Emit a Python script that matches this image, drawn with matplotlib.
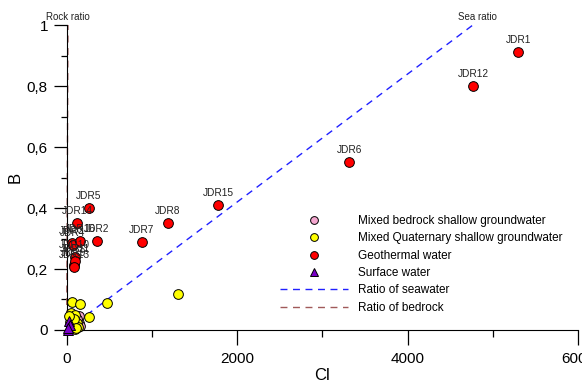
import matplotlib.pyplot as plt
from matplotlib.ticker import FuncFormatter, MultipleLocator

plt.rcParams['font.family'] = ['Liberation Sans', 'DejaVu Sans']

# Mixed bedrock shallow groundwater
cl_bed = [145, 145, 117, 160, 90]
b_bed = [0.046, 0.022, 0.035, 0.012, 0.03]

# Mixed Quaternary shallow groundwater
cl_quat = [1310, 470, 262, 59, 156, 50, 98, 39, 117, 98, 59, 137, 80, 30, 110]
b_quat = [0.118, 0.090, 0.042, 0.093, 0.085, 0.055, 0.050, 0.027, 0.022, 0.002, 0.010, 0.011, 0.035, 0.045, 0.005]

# Geothermal water
geo_names = ['JDR1', 'JDR2', 'JDR3', 'JDR4', 'JDR5', 'JDR6', 'JDR7', 'JDR8',
             'JDR9', 'JDR10', 'JDR11', 'JDR12', 'JDR13', 'JDR14', 'JDR15', 'JDR16']
cl_geo = [5298, 352, 62, 72, 258, 3318, 878, 1184,
          86, 94, 102, 4768, 90, 125, 1776, 156]
b_geo = [0.911, 0.291, 0.284, 0.280, 0.401, 0.551, 0.290, 0.350,
         0.212, 0.239, 0.226, 0.801, 0.208, 0.351, 0.410, 0.291]

# Surface water
cl_surf = [27, 12, 39, 20]
b_surf = [0.030, 0.0, 0.015, 0.005]

# reference ratio lines
sea_x = [0, 4766]
sea_y = [0, 1]
rock_x = [0, 15]
rock_y = [0, 1]

fig = plt.figure(figsize=(5.82, 3.87), dpi=100)
ax = fig.add_axes([0.1146, 0.1473, 0.8786, 0.788])

ax.plot(cl_bed, b_bed, linestyle='none', marker='o', markersize=7,
        markerfacecolor='#f4a6cf', markeredgecolor='black', markeredgewidth=0.7,
        clip_on=False, zorder=3, label='Mixed bedrock shallow groundwater')
ax.plot(cl_quat, b_quat, linestyle='none', marker='o', markersize=7,
        markerfacecolor='#ffff00', markeredgecolor='black', markeredgewidth=0.7,
        clip_on=False, zorder=3, label='Mixed Quaternary shallow groundwater')
ax.plot(cl_geo, b_geo, linestyle='none', marker='o', markersize=7,
        markerfacecolor='#ff0000', markeredgecolor='black', markeredgewidth=0.7,
        clip_on=False, zorder=4, label='Geothermal water')
ax.plot(cl_surf, b_surf, linestyle='none', marker='^', markersize=7,
        markerfacecolor='#7a00c8', markeredgecolor='black', markeredgewidth=0.7,
        clip_on=False, zorder=5, label='Surface water')

ax.plot(sea_x, sea_y, color='#2020ff', linewidth=1, dashes=(5, 4),
        clip_on=False, zorder=2, label='Ratio of seawater')
ax.plot(rock_x, rock_y, color='#a05a5a', linewidth=1, dashes=(5, 4),
        clip_on=False, zorder=2, label='Ratio of bedrock')

for name, x, y in zip(geo_names, cl_geo, b_geo):
    ax.annotate(name, (x, y), xytext=(0, 5), textcoords='offset points',
                ha='center', va='bottom', fontsize=7.3, color='#222222', zorder=6)

ax.annotate('Sea ratio', (sea_x[1], sea_y[1]), xytext=(3, 2), textcoords='offset points',
            ha='center', va='bottom', fontsize=7, color='#222222')
ax.annotate('Rock ratio', (rock_x[1], rock_y[1]), xytext=(0, 2), textcoords='offset points',
            ha='center', va='bottom', fontsize=7, color='#222222')

ax.set_xlim(0, 6000)
ax.set_ylim(0, 1)
ax.spines['top'].set_visible(False)
ax.spines['right'].set_visible(False)

ax.xaxis.set_major_locator(MultipleLocator(2000))
ax.xaxis.set_minor_locator(MultipleLocator(1000))
ax.yaxis.set_major_locator(MultipleLocator(0.2))
ax.yaxis.set_minor_locator(MultipleLocator(0.1))
ax.yaxis.set_major_formatter(FuncFormatter(lambda v, _: f'{v:g}'.replace('.', ',')))

ax.tick_params(axis='x', which='major', direction='out', length=11, width=0.9,
               labelsize=11, pad=5)
ax.tick_params(axis='x', which='minor', direction='out', length=5, width=0.9)
ax.tick_params(axis='y', which='major', direction='out', length=9.5, width=0.9,
               labelsize=11, pad=4)
ax.tick_params(axis='y', which='minor', direction='out', length=4.5, width=0.9)

ax.set_xlabel('Cl', fontsize=12, labelpad=1)
ax.set_ylabel('B', fontsize=12, labelpad=3)

ax.legend(loc='upper left', bbox_to_anchor=(0.481, 0.444),
          bbox_transform=fig.transFigure, frameon=False, fontsize=8.5,
          handlelength=5.8, handletextpad=0.85, labelspacing=0.45,
          borderpad=0, borderaxespad=0, markerscale=0.8, numpoints=1)

fig.savefig('out.png', dpi=100)
